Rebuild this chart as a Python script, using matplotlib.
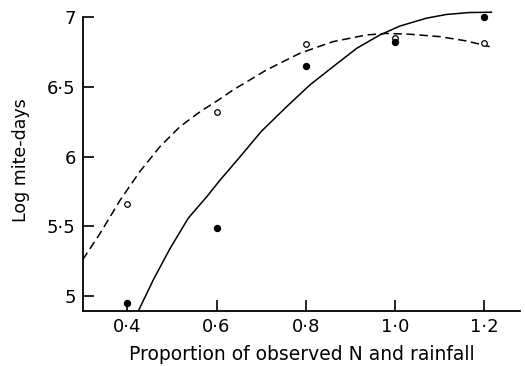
import numpy as np
import matplotlib
matplotlib.use('Agg')
import matplotlib.pyplot as plt

# observed points
x_obs = [0.4, 0.6, 0.8, 1.0, 1.2]
y_open = [5.66, 6.32, 6.81, 6.85, 6.815]
y_filled = [4.95, 5.49, 6.65, 6.825, 7.00]

# fitted curves
x_dash = [0.30, 0.339, 0.384, 0.428, 0.473, 0.518, 0.563, 0.604, 0.637, 0.712,
          0.787, 0.861, 0.936, 0.98, 1.033, 1.10, 1.16, 1.212]
y_dash = [5.26, 5.449, 5.688, 5.892, 6.071, 6.215, 6.322, 6.406, 6.478, 6.622,
          6.742, 6.825, 6.873, 6.884, 6.878, 6.861, 6.83, 6.789]
x_solid = [0.425, 0.458, 0.496, 0.537, 0.578, 0.608, 0.653, 0.700, 0.757, 0.809,
           0.861, 0.914, 0.966, 1.011, 1.07, 1.115, 1.167, 1.216]
y_solid = [4.894, 5.114, 5.342, 5.56, 5.712, 5.832, 6.0, 6.18, 6.358, 6.514,
           6.645, 6.777, 6.873, 6.937, 6.993, 7.02, 7.034, 7.036]

xticks = [0.4, 0.6, 0.8, 1.0, 1.2]
xtick_labels = ['0·4', '0·6', '0·8', '1·0', '1·2']
yticks = [5, 5.5, 6, 6.5, 7]
ytick_labels = ['5', '5·5', '6', '6·5', '7']

fig = plt.figure(figsize=(5.25, 3.66), dpi=100)
ax = fig.add_axes([0.1575, 0.1511, 0.833, 0.8208])

ax.plot(x_dash, y_dash, color='black', lw=1.1, dashes=(5.5, 3))
ax.plot(x_solid, y_solid, color='black', lw=1.1, solid_joinstyle='round')
ax.plot(x_obs, y_open, 'o', mfc='white', mec='black', ms=4, mew=0.9)
ax.plot(x_obs, y_filled, 'o', color='black', ms=4.3)

ax.set_xlim(0.3, 1.28)
ax.set_ylim(4.894, 7.05)
ax.spines['top'].set_visible(False)
ax.spines['right'].set_visible(False)
ax.spines['left'].set_bounds(4.894, 7.0)
ax.spines['left'].set_linewidth(1.3)
ax.spines['bottom'].set_linewidth(1.3)

ax.set_xticks(xticks)
ax.set_xticklabels(xtick_labels)
ax.set_yticks(yticks)
ax.set_yticklabels(ytick_labels)
ax.tick_params(direction='in', length=8, width=1.2, labelsize=13, pad=5)

ax.set_xlabel('Proportion of observed N and rainfall', fontsize=13.5, labelpad=7)
ax.set_ylabel('Log mite-days', fontsize=12.5, labelpad=12)

fig.savefig('out.png', dpi=100)
